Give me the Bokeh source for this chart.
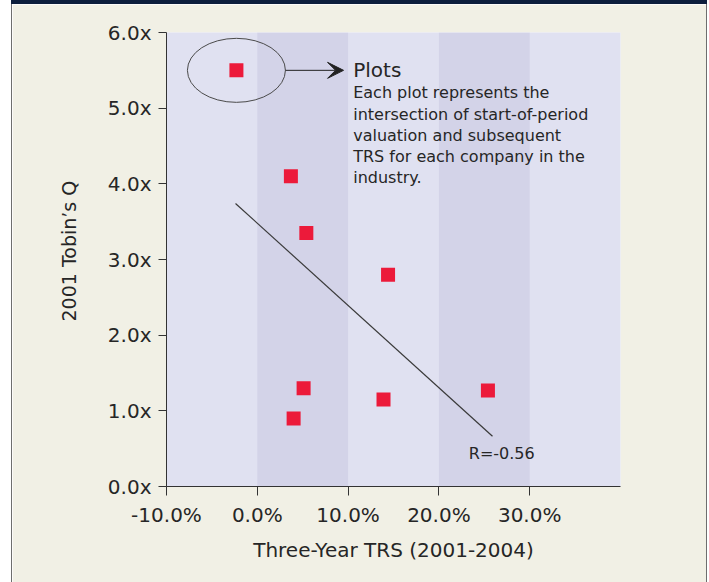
from bokeh.plotting import figure
from bokeh.layouts import row, column
from bokeh.models import (FixedTicker, BoxAnnotation, Label, Arrow, VeeHead, Range1d,
                          Div, Spacer, Title)
from bokeh.embed import file_html
from bokeh.resources import INLINE

# ---------------- data ----------------
TRS = [-2.3, 3.7, 5.4, 14.4, 5.1, 4.0, 13.9, 25.4]          # Three-Year TRS (%)
TOBIN_Q = [5.5, 4.1, 3.35, 2.8, 1.3, 0.9, 1.15, 1.27]        # 2001 Tobin's Q
TREND_X = [-2.4, 25.9]
TREND_Y = [3.74, 0.665]
R_TEXT = "R=-0.56"
X_TICKS = [-10, 0, 10, 20, 30]
X_TICK_LABELS = ["-10.0%", "0.0%", "10.0%", "20.0%", "30.0%"]
Y_TICKS = [0, 1, 2, 3, 4, 5, 6]
Y_TICK_LABELS = ["0.0x", "1.0x", "2.0x", "3.0x", "4.0x", "5.0x", "6.0x"]
BANDS = [(0, 10), (20, 30)]
X_TITLE = "Three-Year TRS (2001-2004)"
Y_TITLE = "2001 Tobin\u2019s Q"
NOTE_TITLE = "Plots"
NOTE_LINES = [
    "Each plot represents the",
    "intersection of start-of-period",
    "valuation and subsequent",
    "TRS for each company in the",
    "industry.",
]

# ---------------- style ----------------
CREAM = "#f1f0e5"
LIGHT = "#e0e1f1"
DARK = "#d3d3e8"
NAVY = "#0c1e3c"
RED = "#ec1a3a"
INK = "#262626"
RULE = "#6e6e6e"
FONT = "DejaVu Sans"

PW, PH = 694, 578   # figure size (panel interior)

p = figure(width=PW, height=PH,
           x_range=Range1d(-10, 40), y_range=Range1d(0, 6),
           output_backend="svg", toolbar_location=None,
           min_border_left=154, min_border_right=86,
           min_border_top=28, min_border_bottom=96,
           background_fill_color=LIGHT, border_fill_color=CREAM,
           outline_line_color=None)

p.xgrid.visible = False
p.ygrid.visible = False

# background bands
for lo, hi in BANDS:
    p.add_layout(BoxAnnotation(left=lo, right=hi, fill_color=DARK, fill_alpha=1,
                               line_color=None, level="underlay"))

# axes
for ax in (p.xaxis[0], p.yaxis[0]):
    ax.axis_line_color = "#333333"
    ax.axis_line_width = 1
    ax.major_tick_line_color = "#333333"
    ax.major_tick_in = 0
    ax.minor_tick_line_color = None
    ax.major_label_text_font = FONT
    ax.major_label_text_font_size = "20px"
    ax.major_label_text_color = INK
    ax.axis_label_text_font = FONT
    ax.axis_label_text_font_size = "20px"
    ax.axis_label_text_font_style = "normal"
    ax.axis_label_text_color = INK

p.xaxis.ticker = FixedTicker(ticks=X_TICKS)
p.xaxis.major_label_overrides = dict(zip(X_TICKS, X_TICK_LABELS))
p.xaxis.major_tick_out = 9
p.xaxis.major_label_standoff = 7
p.xaxis.axis_label = X_TITLE
p.xaxis.axis_label_standoff = 8

p.yaxis.ticker = FixedTicker(ticks=Y_TICKS)
p.yaxis.major_label_overrides = dict(zip(Y_TICKS, Y_TICK_LABELS))
p.yaxis.major_tick_out = 8
p.yaxis.major_label_standoff = 7

# y-axis title as a side title, sitting a little above the frame centre
p.add_layout(Title(text=Y_TITLE, align="left", offset=165, standoff=50,
                   text_font=FONT, text_font_size="19px", text_font_style="normal",
                   text_color=INK), "left")

# trend line
p.line(TREND_X, TREND_Y, line_color="#3a3a3a", line_width=1.2)

# points
p.scatter(TRS, TOBIN_Q, marker="square", size=14, fill_color=RED,
          line_color=None)

# highlight ellipse + arrow
p.ellipse(x=[TRS[0]], y=[TOBIN_Q[0]], width=98, height=64,
          width_units="screen", height_units="screen",
          fill_color=None, line_color="#4a4a4a", line_width=1)
p.add_layout(Arrow(x_start=3.1, y_start=TOBIN_Q[0], x_end=9.5, y_end=TOBIN_Q[0],
                   line_color="#222222", line_width=1,
                   end=VeeHead(size=16, fill_color="#222222", fill_alpha=1,
                               line_color="#222222")))

# note text
p.add_layout(Label(x=10.56, y=5.502, text=NOTE_TITLE, text_font=FONT,
                   text_font_size="20px", text_color=INK,
                   text_baseline="middle"))
for i, line in enumerate(NOTE_LINES):
    p.add_layout(Label(x=10.56, y=5.201 - i * 0.2789, text=line, text_font=FONT,
                       text_font_size="16px", text_color=INK,
                       text_baseline="middle"))

p.add_layout(Label(x=23.29, y=0.436, text=R_TEXT, text_font=FONT,
                   text_font_size="16px", text_color=INK,
                   text_baseline="middle"))

# panel frame: navy top bar and thin grey side rules
top_bar = Div(width=696, height=4, margin=(0, 0, 0, 0),
              styles={"background-color": NAVY})
left_rule = Div(width=1, height=PH, margin=(0, 0, 0, 0),
                styles={"background-color": RULE})
right_rule = Div(width=1, height=PH, margin=(0, 0, 0, 0),
                 styles={"background-color": RULE})

layout = column(
    row(Spacer(width=11, height=4), top_bar, spacing=0),
    row(Spacer(width=11, height=PH), left_rule, p, right_rule, spacing=0),
    spacing=0,
)

open("out.html", "w").write(file_html(layout, INLINE))
